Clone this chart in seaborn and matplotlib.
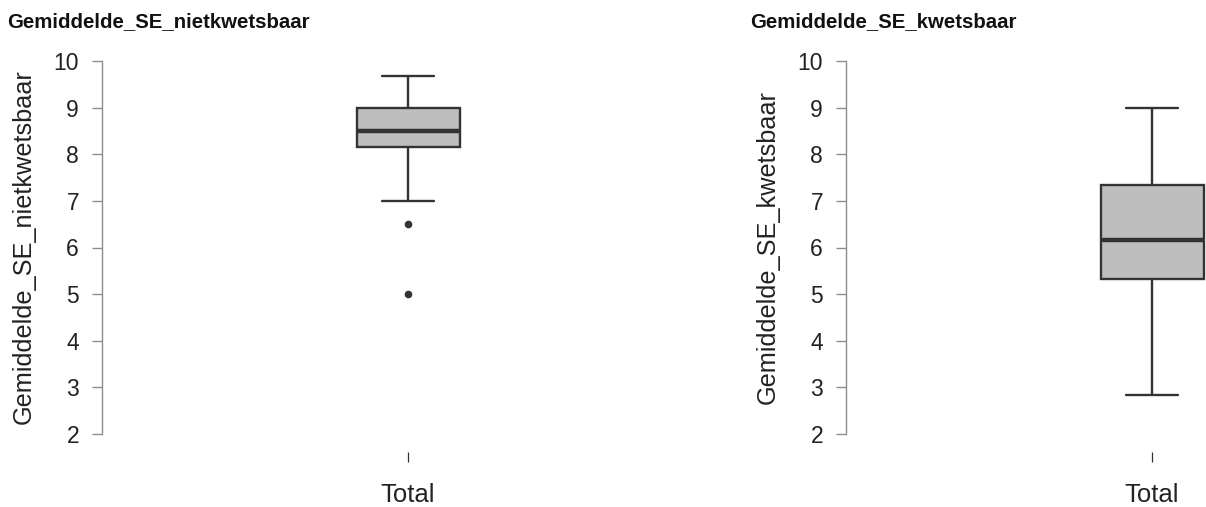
import numpy as np
import pandas as pd
import matplotlib
matplotlib.use("Agg")
import matplotlib.pyplot as plt
import seaborn as sns

sns.set_style("white")
plt.rcParams['font.family'] = ['Liberation Sans', 'DejaVu Sans']

# Data (values estimated from the reference boxplots)
group_label = "Total"
se_nietkwetsbaar = [5.0, 6.5, 7.0, 8.15, 8.2, 8.35, 8.5, 8.65, 8.8, 9.0, 9.2, 9.5, 9.67]
se_kwetsbaar = [2.83, 4.5, 5.33, 5.8, 6.17, 6.7, 7.33, 8.2, 9.0]
titles = ["Gemiddelde_SE_nietkwetsbaar", "Gemiddelde_SE_kwetsbaar"]
y_ticks = [2, 3, 4, 5, 6, 7, 8, 9, 10]

W, H = 1206, 507
fig = plt.figure(figsize=(W / 100, H / 100), dpi=100)

# panel layout in pixels: (axes left, axes width, title x)
panels = [(102, 400, 7), (846, 360, 750)]
series = [se_nietkwetsbaar, se_kwetsbaar]

px_per_unit = 206.0
ax_top, ax_bot = 50, 452
y_scale = (434 - 61) / 8.0

for (left, width, tx), values, title in zip(panels, series, titles):
    ax = fig.add_axes([left / W, 1 - ax_bot / H, width / W, (ax_bot - ax_top) / H])
    df = pd.DataFrame({"group": [group_label] * len(values), "value": values})
    sns.boxplot(data=df, x="group", y="value", ax=ax, width=0.5,
                color="#bebebe", saturation=1, linecolor="#333333", linewidth=1.7,
                medianprops={"linewidth": 3.2, "color": "#333333"},
                flierprops={"marker": "o", "markerfacecolor": "#333333",
                            "markeredgecolor": "#333333"},
                fliersize=4.5)

    ax.set_xlim(-306 / px_per_unit, (width - 306) / px_per_unit)
    ax.set_ylim(2 - (ax_bot - 434) / y_scale, 10 + (61 - ax_top) / y_scale)
    ax.set_yticks(y_ticks)

    for s in ["top", "right", "bottom"]:
        ax.spines[s].set_visible(False)
    ax.spines["left"].set_bounds(2, 10)
    ax.spines["left"].set_color("#8c8c8c")
    ax.spines["left"].set_linewidth(1.0)

    ax.tick_params(axis="y", direction="out", length=7, width=1.0, color="#8c8c8c",
                   labelsize=16.5, labelcolor="#222222", pad=9.5, left=True)
    ax.tick_params(axis="x", direction="out", length=7, width=0.9, color="#333333",
                   labelsize=18.5, labelcolor="#222222", pad=15.5, bottom=True)

    ax.set_xlabel("")
    ax.set_ylabel(title, fontsize=18.2, color="#222222")
    ax.yaxis.set_label_coords(-66 / width, 0.511)

    fig.text(tx / W, 1 - 22 / H, title, fontsize=14.7, fontweight="bold",
             va="center", ha="left", color="#111111")

plt.savefig("out.png", dpi=100)
